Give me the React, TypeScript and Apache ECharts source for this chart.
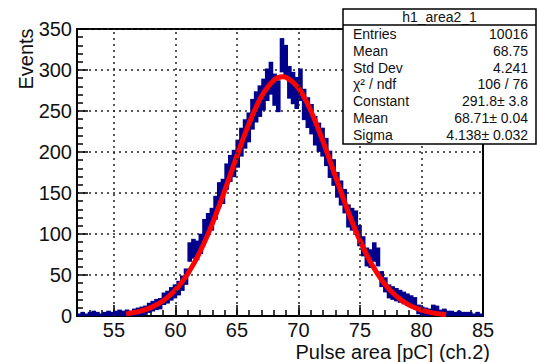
import React, { useEffect, useRef } from "react";
import * as echarts from "echarts";

// Histogram: 110 bins of 0.3 pC from 52 to 85
const binLow = 52;
const binWidth = 0.3;
const counts = [
  0, 1, 0, 1, 2, 1, 0, 1, 2, 1,
  2, 3, 2, 3, 2, 4, 5, 6, 7, 10,
  12, 14, 15, 21, 23, 27, 30, 34, 40, 48,
  78, 82, 80, 88, 105, 112, 118, 132, 148, 152,
  170, 180, 186, 198, 212, 222, 230, 246, 255, 262,
  270, 282, 290, 276, 268, 318, 310, 285, 278, 272,
  282, 258, 248, 240, 226, 218, 212, 200, 185, 175,
  160, 150, 140, 122, 118, 115, 98, 85, 72, 70,
  78, 72, 45, 38, 30, 28, 26, 24, 22, 20,
  18, 16, 8, 6, 5, 4, 8, 7, 3, 4,
  2, 2, 1, 2, 1, 1, 1, 0, 1, 0,
];

// Gaussian fit curve, read at each unit
const fitX = [56, 57, 58, 59, 60, 61, 62, 63, 64, 65, 66, 67, 68, 68.71, 69, 70, 71, 72, 73, 74, 75, 76, 77, 78, 79, 80, 81, 82];
const fitY = [2.6, 5.3, 10.2, 18.6, 31.8, 51.4, 78.4, 112.6, 152.7, 195.2, 235.5, 267.9, 287.5, 291.8, 291.1, 278.0, 250.4, 212.7, 170.5, 128.9, 91.9, 61.8, 39.2, 23.5, 13.2, 7.1, 3.5, 1.7];

const xMajorTicks = [55, 60, 65, 70, 75, 80, 85];
const xGridLines = [55, 60, 65, 70, 75, 80];

const statTitle = "h1_area2_1";
const statLabels = ["Entries", "Mean", "Std Dev", "χ² / ndf", "Constant", "Mean", "Sigma"];
const statValues = ["10016", "68.75", "4.241", "106 / 76", "291.8± 3.8", "68.71± 0.04", "4.138± 0.032"];

const FONT = "Liberation Sans, Arial, Helvetica, sans-serif";
const TXT = "#111";

export default function App() {
  const ref = useRef<HTMLDivElement>(null);

  useEffect(() => {
    if (!ref.current) return;
    const chart = echarts.init(ref.current, null, { renderer: "svg" });

    const histData = counts.map((c, i) => [
      binLow + i * binWidth,
      binLow + (i + 1) * binWidth,
      c,
      Math.sqrt(c),
    ]);

    const rowY = [34, 51, 68, 84, 101, 118, 135];
    const statGraphics: any[] = [
      {
        type: "rect",
        z: 100,
        shape: { x: 343, y: 9, width: 193, height: 135 },
        style: { fill: "#fff", stroke: "#000", lineWidth: 1.5 },
      },
      {
        type: "line",
        z: 101,
        shape: { x1: 343, y1: 25, x2: 536, y2: 25 },
        style: { stroke: "#000", lineWidth: 1.5 },
      },
      {
        type: "text",
        z: 101,
        x: 439.5,
        y: 17,
        style: {
          text: statTitle,
          font: `14px ${FONT}`,
          fill: TXT,
          textAlign: "center",
          textVerticalAlign: "middle",
        },
      },
    ];
    statLabels.forEach((l, i) => {
      statGraphics.push({
        type: "text",
        z: 101,
        x: 353,
        y: rowY[i],
        style: { text: l, font: `14px ${FONT}`, fill: TXT, textAlign: "left", textVerticalAlign: "middle" },
      });
      statGraphics.push({
        type: "text",
        z: 101,
        x: 528,
        y: rowY[i],
        style: { text: statValues[i], font: `14px ${FONT}`, fill: TXT, textAlign: "right", textVerticalAlign: "middle" },
      });
    });

    const option: any = {
      animation: false,
      backgroundColor: "#fff",
      grid: {
        left: 77,
        top: 29,
        right: 54,
        bottom: 46,
        show: true,
        borderColor: "#000",
        borderWidth: 2,
        backgroundColor: "transparent",
      },
      xAxis: [
        {
          type: "value",
          min: 52,
          max: 85,
          position: "bottom",
          axisLine: { show: true, onZero: false, lineStyle: { color: "#000", width: 2 } },
          axisTick: { show: true, inside: true, length: 11, customValues: xMajorTicks, lineStyle: { color: "#000", width: 1.5 } },
          axisLabel: {
            show: true,
            customValues: xMajorTicks,
            fontSize: 20,
            fontFamily: FONT,
            color: TXT,
            margin: 4,
            showMinLabel: true,
            showMaxLabel: true,
          },
          splitLine: { show: false },
        },
        {
          type: "value",
          min: 52,
          max: 85,
          interval: 1,
          position: "bottom",
          gridIndex: 0,
          axisLine: { show: false },
          axisTick: { show: true, inside: true, length: 6, lineStyle: { color: "#000", width: 1.5 } },
          axisLabel: { show: false },
          splitLine: { show: false },
        },
      ],
      yAxis: {
        type: "value",
        min: 0,
        max: 350,
        interval: 50,
        axisLine: { show: true, onZero: false, lineStyle: { color: "#000", width: 2 } },
        axisTick: { show: true, inside: true, length: 11, lineStyle: { color: "#000", width: 1.5 } },
        minorTick: { show: true, splitNumber: 5, length: 6, lineStyle: { color: "#000", width: 1.5 } },
        axisLabel: { fontSize: 20, fontFamily: FONT, color: TXT, margin: 5 },
        splitLine: { show: true, lineStyle: { color: "#222", width: 1.5, type: [2, 4] } },
      },
      series: [
        {
          type: "line",
          data: [],
          xAxisIndex: 0,
          z: 1,
          markLine: {
            silent: true,
            symbol: "none",
            label: { show: false },
            lineStyle: { color: "#222", width: 1.5, type: [2, 4] },
            data: xGridLines.map((v) => ({ xAxis: v })),
          },
        },
        {
          type: "custom",
          xAxisIndex: 0,
          z: 2,
          clip: true,
          data: histData,
          encode: { x: [0, 1], y: [2] },
          renderItem: (params: any, api: any) => {
            const x0 = api.value(0);
            const x1 = api.value(1);
            const v = api.value(2);
            const e = api.value(3);
            const pLo = api.coord([x0, Math.max(0, v - e)]);
            const pHi = api.coord([x1, v + e]);
            let top = pHi[1] - 2.5;
            let bottom = pLo[1] + 2.5;
            if (bottom - top < 5) {
              const mid = api.coord([x0, v])[1];
              top = mid - 2.5;
              bottom = mid + 2.5;
            }
            return {
              type: "rect",
              shape: { x: pLo[0] - 0.3, y: top, width: pHi[0] - pLo[0] + 0.9, height: bottom - top },
              style: { fill: "#00008c" },
            };
          },
        },
        {
          type: "line",
          xAxisIndex: 0,
          z: 3,
          smooth: 0.35,
          showSymbol: false,
          data: fitX.map((x, i) => [x, fitY[i]]),
          lineStyle: { color: "#ff0000", width: 5 },
        },
      ],
      graphic: [
        {
          type: "text",
          z: 100,
          x: 26,
          y: 59,
          rotation: Math.PI / 2,
          style: {
            text: "Events",
            font: `20px ${FONT}`,
            fill: TXT,
            textAlign: "center",
            textVerticalAlign: "middle",
          },
        },
        {
          type: "text",
          z: 100,
          x: 490,
          y: 352,
          style: {
            text: "Pulse area [pC] (ch.2)",
            font: `20px ${FONT}`,
            fill: TXT,
            textAlign: "right",
            textVerticalAlign: "middle",
          },
        },
        ...statGraphics,
      ],
    };

    chart.setOption(option);
    return () => chart.dispose();
  }, []);

  return (
    <div
      ref={ref}
      style={{ position: "fixed", left: 0, top: 0, width: 537, height: 362, background: "#fff" }}
    />
  );
}
